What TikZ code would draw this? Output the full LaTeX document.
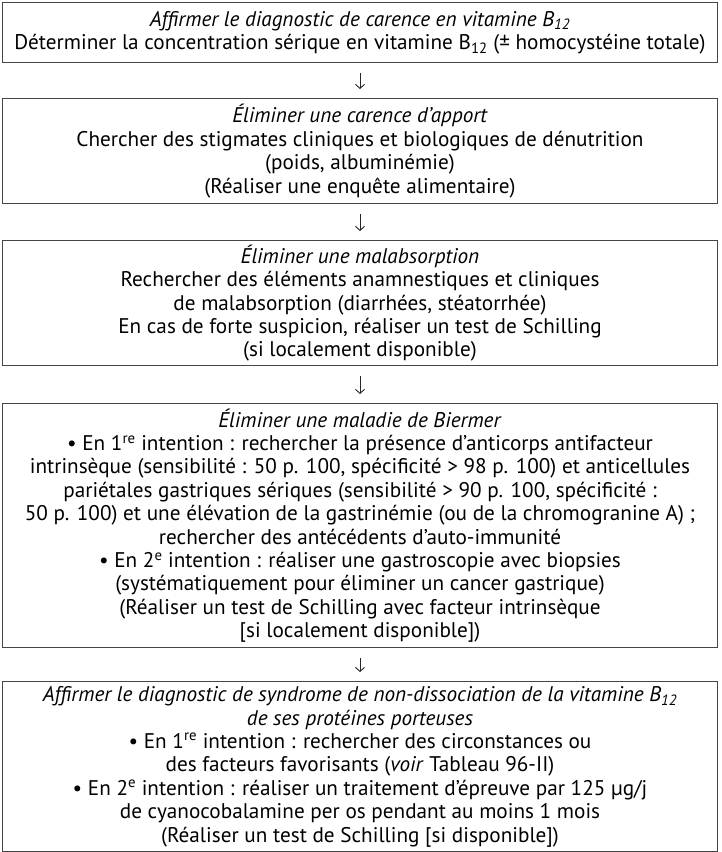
\documentclass[tikz,border=0pt]{standalone}
\usepackage{fontspec}
\setmainfont{PT Sans}
\usepackage{xcolor}
\usepackage{tikz}
\usetikzlibrary{arrows.meta,positioning}
\definecolor{framegray}{RGB}{70,70,70}
\newcommand{\Bdouze}{B\textsubscript{12}}
\newcommand{\ere}{1\textsuperscript{re}}
\newcommand{\eme}{2\textsuperscript{e}}

\begin{document}
\begin{tikzpicture}[
  x=1pt, y=1pt,
  box/.style={draw=framegray, rectangle, line width=1.4pt, minimum width=715pt,
              align=center, anchor=north, inner sep=0pt,
              font=\fontsize{21.2}{23.4}\selectfont},
  >={Straight Barb[length=4pt,width=9pt]},
  arrline/.style={->, line width=0.9pt, color=black!85, shorten <=10pt, shorten >=9pt},
]
\useasboundingbox (0,0) rectangle (721,-852);
\node[box, minimum height=60pt] (diag) at (360,-2)
  {\textit{Affirmer le diagnostic de carence en vitamine B\textsubscript{12}}\\
   Déterminer la concentration sérique en vitamine \Bdouze{} (± homocystéine totale)};
\node[box, minimum height=105pt] (apport) at (360,-98)
  {\textit{Éliminer une carence d’apport}\\
   Chercher des stigmates cliniques et biologiques de dénutrition\\
   (poids, albuminémie)\\
   (Réaliser une enquête alimentaire)};
\node[box, minimum height=125pt] (malabs) at (360,-240)
  {\textit{Éliminer une malabsorption}\\
   Rechercher des éléments anamnestiques et cliniques\\
   de malabsorption (diarrhées, stéatorrhée)\\
   En cas de forte suspicion, réaliser un test de Schilling\\
   (si localement disponible)};
\node[box, minimum height=244pt] (biermer) at (360,-403)
  {\textit{Éliminer une maladie de Biermer}\\
   • En \ere{} intention : rechercher la présence d’anticorps antifacteur\\
   intrinsèque (sensibilité : 50 p. 100, spécificité > 98 p. 100) et anticellules\\
   pariétales gastriques sériques (sensibilité > 90 p. 100, spécificité :\\
   50 p. 100) et une élévation de la gastrinémie (ou de la chromogranine A) ;\\
   rechercher des antécédents d’auto-immunité\\
   • En \eme{} intention : réaliser une gastroscopie avec biopsies\\
   (systématiquement pour éliminer un cancer gastrique)\\
   (Réaliser un test de Schilling avec facteur intrinsèque\\
   {[}si localement disponible{]})};
\node[box, minimum height=170pt] (nondiss) at (360,-681)
  {\textit{Affirmer le diagnostic de syndrome de non-dissociation de la vitamine B\textsubscript{12}}\\
   \textit{de ses protéines porteuses}\\
   • En \ere{} intention : rechercher des circonstances ou\\
   des facteurs favorisants (\textit{voir} Tableau 96-II)\\
   • En \eme{} intention : réaliser un traitement d’épreuve par 125 µg/j\\
   de cyanocobalamine per os pendant au moins 1 mois\\
   (Réaliser un test de Schilling {[}si disponible{]})};
\draw[arrline] (diag.south) -- (apport.north);
\draw[arrline] (apport.south) -- (malabs.north);
\draw[arrline] (malabs.south) -- (biermer.north);
\draw[arrline] (biermer.south) -- (nondiss.north);
\end{tikzpicture}
\end{document}
